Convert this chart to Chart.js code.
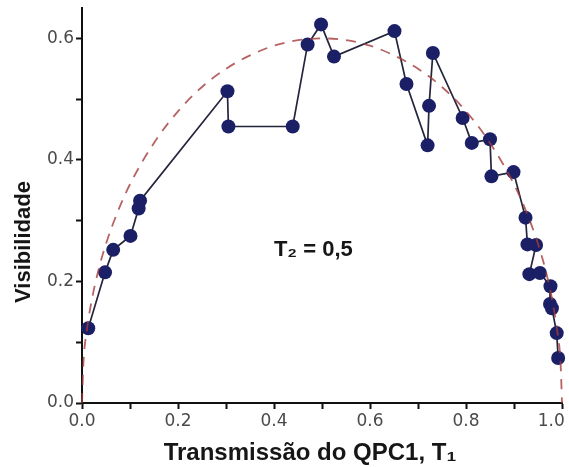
<!DOCTYPE html>
<html lang="pt">
<head>
<meta charset="utf-8">
<title>Visibilidade vs Transmissão do QPC1</title>
<script src="https://cdn.jsdelivr.net/npm/chart.js@4/dist/chart.umd.min.js"></script>
<style>
  html, body { margin: 0; padding: 0; background: #fff; }
  #wrap { position: relative; width: 569px; height: 467px; }
</style>
</head>
<body>
<div id="wrap"><canvas id="vis-chart"></canvas></div>
<script>
'use strict';

// ── Data ──────────────────────────────────────────────────────────
// measured points, in the order the line joins them
const measuredT = [0.013, 0.048, 0.065, 0.101, 0.118, 0.121, 0.303, 0.305, 0.439, 0.470,
                   0.498, 0.525, 0.651, 0.676, 0.720, 0.723, 0.731, 0.793, 0.812, 0.850,
                   0.853, 0.899, 0.924, 0.928, 0.946, 0.932, 0.954, 0.976, 0.975, 0.979,
                   0.989, 0.992];
const measuredV = [0.123, 0.215, 0.252, 0.275, 0.320, 0.333, 0.513, 0.455, 0.455, 0.590,
                   0.623, 0.570, 0.612, 0.525, 0.424, 0.489, 0.576, 0.469, 0.428, 0.434,
                   0.373, 0.380, 0.305, 0.261, 0.260, 0.212, 0.214, 0.192, 0.163, 0.156,
                   0.115, 0.074];

// dashed theoretical curve
const curveT = [0, 0.003, 0.01, 0.02, 0.035, 0.05, 0.075, 0.1, 0.15, 0.2, 0.25, 0.3, 0.35,
                0.4, 0.45, 0.5, 0.55, 0.6, 0.65, 0.7, 0.75, 0.8, 0.85, 0.9, 0.925, 0.95,
                0.965, 0.98, 0.99, 0.997, 1];
const curveV = [0, 0.066, 0.119, 0.168, 0.221, 0.262, 0.316, 0.360, 0.428, 0.480, 0.520,
                0.550, 0.572, 0.588, 0.597, 0.600, 0.597, 0.588, 0.572, 0.550, 0.520, 0.480,
                0.428, 0.360, 0.316, 0.262, 0.221, 0.168, 0.119, 0.066, 0];

const xTitle = 'Transmissão do QPC1, T\u2081';
const yTitle = 'Visibilidade';
const note   = 'T\u2082 = 0,5';

// ── Helpers ───────────────────────────────────────────────────────
const toXY = (xs, ys) => xs.map((x, i) => ({ x, y: ys[i] }));
const majorLabel = v => (Math.round(v * 10) % 2 === 0 ? v.toFixed(1) : '');
// last x label sits a bit inside the canvas (trailing spaces pull it left)
const xLabel = v => (v === 1 ? '1.0    ' : majorLabel(v));

const TICK_FONT  = { family: "'DejaVu Sans', sans-serif", size: 17 };
const TITLE_FONT = "bold {s}px 'Liberation Sans', Arial, sans-serif";

// ── Titles + annotation (drawn after the chart) ──────────────────
const textPlugin = {
  id: 'textPlugin',
  afterDraw(chart) {
    const { ctx, scales } = chart;
    ctx.save();
    ctx.fillStyle = '#161616';
    ctx.textAlign = 'center';

    // y title
    ctx.save();
    ctx.translate(24, 242);
    ctx.rotate(-Math.PI / 2);
    ctx.textBaseline = 'middle';
    ctx.font = TITLE_FONT.replace('{s}', 22);
    ctx.fillText(yTitle, 0, 0);
    ctx.restore();

    // x title
    ctx.textBaseline = 'alphabetic';
    ctx.font = TITLE_FONT.replace('{s}', 24);
    ctx.fillText(xTitle, 310, 460);

    // T2 note, placed in data space
    ctx.font = TITLE_FONT.replace('{s}', 22);
    ctx.textBaseline = 'middle';
    ctx.fillText(note, scales.x.getPixelForValue(0.482), scales.y.getPixelForValue(0.252));
    ctx.restore();
  },
};

// ── Chart ─────────────────────────────────────────────────────────
new Chart(document.getElementById('vis-chart'), {
  type: 'scatter',
  data: {
    datasets: [
      {
        label: 'teoria',
        data: toXY(curveT, curveV),
        showLine: true,
        borderColor: 'rgba(165,60,60,0.8)',
        borderWidth: 1.8,
        borderDash: [10, 8],
        cubicInterpolationMode: 'monotone',
        pointRadius: 0,
        order: 0,
        clip: false,
      },
      {
        label: 'medida',
        data: toXY(measuredT, measuredV),
        showLine: true,
        borderColor: '#23253d',
        borderWidth: 1.7,
        pointRadius: 7,
        pointBackgroundColor: '#1b1f66',
        pointBorderColor: '#1b1f66',
        pointBorderWidth: 0,
        order: 1,
        clip: false,
      },
    ],
  },
  options: {
    responsive: true,
    maintainAspectRatio: false,
    animation: false,
    events: [],
    layout: { padding: { top: 8, right: 4, left: 0, bottom: 0 } },
    plugins: { legend: { display: false }, tooltip: { enabled: false } },
    scales: {
      x: {
        type: 'linear',
        min: 0, max: 1,
        border: { display: true, color: '#111', width: 2 },
        grid: { drawOnChartArea: false, tickLength: 6, tickColor: '#111', tickWidth: 2 },
        ticks: {
          stepSize: 0.1, autoSkip: false, maxRotation: 0, includeBounds: false,
          padding: 2, color: '#4a4a4a', font: TICK_FONT, callback: xLabel,
        },
        afterFit(s) { s.height = 64; s.paddingLeft = 0; s.paddingRight = 0; },
      },
      y: {
        type: 'linear',
        min: 0, max: 0.65,
        border: { display: true, color: '#111', width: 2 },
        grid: { drawOnChartArea: false, tickLength: 6, tickColor: '#111', tickWidth: 2 },
        ticks: {
          stepSize: 0.1, autoSkip: false, includeBounds: false,
          padding: 2, color: '#4a4a4a', font: TICK_FONT, callback: majorLabel,
        },
        afterFit(s) { s.width = 82; s.paddingTop = 0; s.paddingBottom = 0; },
      },
    },
  },
  plugins: [textPlugin],
});
</script>
</body>
</html>
